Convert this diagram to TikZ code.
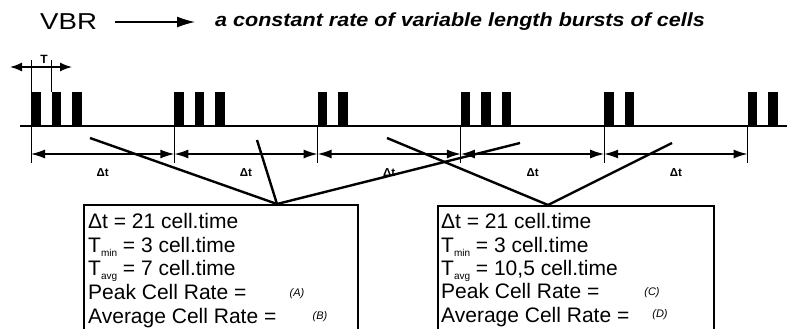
\documentclass[tikz,border=0pt]{standalone}
\usepackage{fontspec}
\setmainfont{Liberation Sans}
\usetikzlibrary{arrows.meta,calc}
\begin{document}
\begin{tikzpicture}[x=1pt,y=-1pt,
  cellbar/.style={fill=black,draw=none},
  tickline/.style={line width=1pt},
  dimarrow/.style={line width=1.4pt,{Latex[length=14pt,width=9pt]}-{Latex[length=14pt,width=9pt]}},
  ray/.style={line width=2.4pt},
  infobox/.style={draw,line width=1.6pt,anchor=north west,inner sep=0pt},
  boxtxt/.style={font=\fontsize{21}{21}\selectfont,anchor=base west,inner sep=0pt},
  sublbl/.style={font=\fontsize{11}{11}\selectfont\itshape,inner sep=0pt},
  dtlbl/.style={font=\fontsize{11.5}{11.5}\selectfont\bfseries,inner sep=0pt}]
\useasboundingbox (0,0) rectangle (787,329);
\clip (0,0) rectangle (787,329);
\newcommand{\subtxt}[1]{\raisebox{-4pt}{\fontsize{10}{10}\selectfont #1}}
% title
\node (vbr) [font=\fontsize{23}{23}\selectfont,anchor=base west,inner sep=0pt] at (40,30) {\scalebox{1.2}[1]{VBR}};
\coordinate (arrS) at (115,22);
\coordinate (arrE) at (195,22);
\draw[line width=1.2pt,-{Latex[length=18pt,width=11pt]}] (arrS) -- (arrE);
\node (desc) [font=\fontsize{19}{19}\selectfont\bfseries\itshape,anchor=base west,inner sep=0pt] at (215,27) {\scalebox{1.134}[1]{a constant rate of variable length bursts of cells}};
% baseline
\coordinate (baseL) at (20,126);
\coordinate (baseR) at (787,126);
\draw[line width=2pt] (baseL) -- (baseR);
% bursts
\foreach \k/\n in {0/3,1/3,2/2,3/3,4/2,5/2} {
  \pgfmathsetmacro\xs{31+143.3*\k}
  \foreach \j in {1,...,\n} {
    \fill[cellbar] (\xs+20.5*\j-20.5,92) rectangle ++(9.5,34);
  }
  \coordinate (top\k) at (\xs,126);
  \coordinate (bot\k) at (\xs,163);
  \coordinate (d\k) at (\xs,154);
  \draw[tickline] (top\k) -- (bot\k);
}
% T dimension
\coordinate (tTick1) at (31,60);
\coordinate (tTick2) at (51.5,60);
\coordinate (tTick2b) at (51.5,92);
\draw[tickline] (tTick1) -- (top0);
\draw[tickline] (tTick2) -- (tTick2b);
\coordinate (tL) at (10,67);
\coordinate (tR) at (72,67);
\draw[line width=1.4pt,{Latex[length=12pt,width=9pt]}-{Latex[length=12pt,width=9pt]}] (tL) -- (tR);
\node (Tlbl) [font=\fontsize{12}{12}\selectfont\bfseries,inner sep=0pt] at (44,59) {T};
% delta t dimensions
\foreach \a/\b in {0/1,1/2,2/3,3/4,4/5} {
  \draw[dimarrow] (d\a) -- (d\b);
  \node (dl\a) [dtlbl] at ($(d\a)!0.5!(d\b)+(0,19)$) {Δt};
}
% rays
\coordinate (r1) at (90,138);
\coordinate (r2) at (257,140);
\coordinate (r3) at (520,143);
\coordinate (apexA) at (277,204);
\coordinate (r4) at (387,138);
\coordinate (r5) at (672,143);
\coordinate (apexC) at (548,205);
\draw[ray] (r1) -- (apexA);
\draw[ray] (r2) -- (apexA);
\draw[ray] (r3) -- (apexA);
\draw[ray] (r4) -- (apexC);
\draw[ray] (r5) -- (apexC);
% boxes
\node (boxA) [infobox,minimum width=274,minimum height=150] at (83,204) {};
\node (boxC) [infobox,minimum width=276,minimum height=150] at (437,205) {};
% box A text
\node (a1) [boxtxt] at (88,228) {Δt = 21 cell.time};
\node (a2) [boxtxt] at (88,252) {T\subtxt{min} = 3 cell.time};
\node (a3) [boxtxt] at (88,275) {T\subtxt{avg} = 7 cell.time};
\node (a4) [boxtxt] at (88,299) {Peak Cell Rate =};
\node (a5) [boxtxt] at (88,323) {Average Cell Rate =};
\node (labA) [sublbl] at (297,294) {(A)};
\node (labB) [sublbl] at (320,317) {(B)};
% box C text
\node (c1) [boxtxt] at (441,228) {Δt = 21 cell.time};
\node (c2) [boxtxt] at (441,252) {T\subtxt{min} = 3 cell.time};
\node (c3) [boxtxt] at (441,275) {T\subtxt{avg} = 10,5 cell.time};
\node (c4) [boxtxt] at (441,298) {Peak Cell Rate =};
\node (c5) [boxtxt] at (441,322) {Average Cell Rate =};
\node (labC) [sublbl] at (652,293) {(C)};
\node (labD) [sublbl] at (660,315) {(D)};
\end{tikzpicture}
\end{document}
